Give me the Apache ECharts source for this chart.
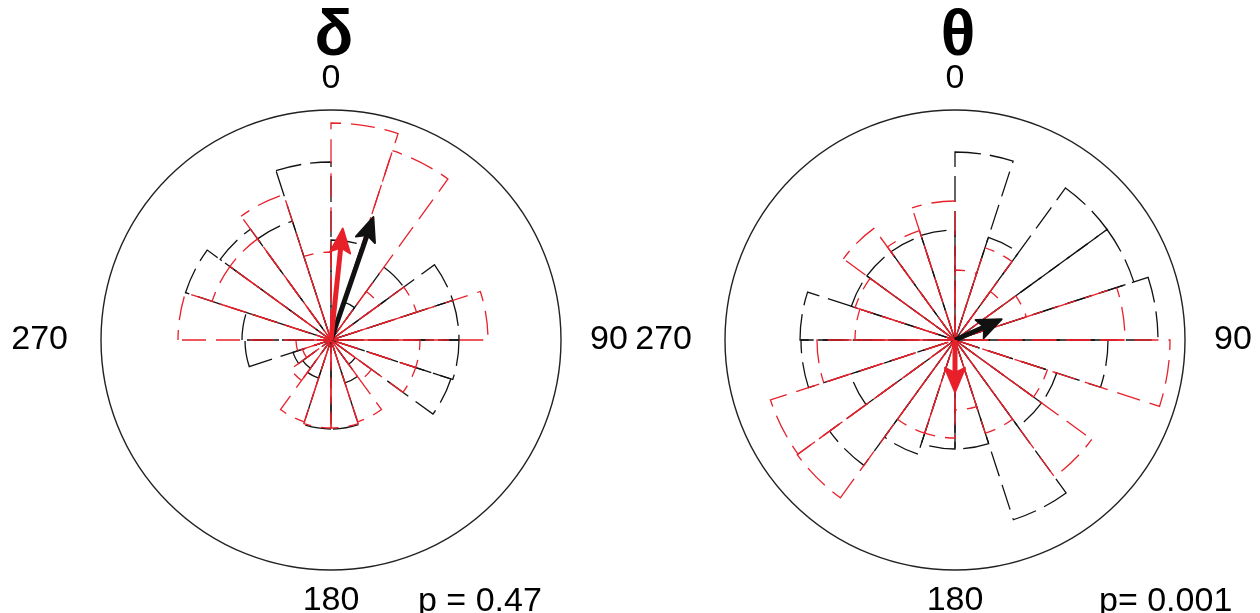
<!DOCTYPE html>
<html><head><meta charset="utf-8">
<script src="https://cdn.jsdelivr.net/npm/echarts@6/dist/echarts.min.js"></script>
<style>html,body{margin:0;padding:0;background:#fff}#c{width:1260px;height:613px}</style>
</head><body><div id="c"></div>
<script>
// 20 bins of 18 degrees (compass: 0 = up, clockwise)
const binLabels = ['0-18','18-36','36-54','54-72','72-90','90-108','108-126','126-144','144-162','162-180',
  '180-198','198-216','216-234','234-252','252-270','270-288','288-306','306-324','324-342','342-360'];
// bin radii (outer circle = 230)
const deltaBlack = [100,40,90,128,128,128,126,30,45,89,89,40,35,40,86,89,153,137,125,178];
const deltaRed   = [217,199,60,90,157,89,89,50,86,88,88,86,50,30,35,153,125,125,153,88];
const thetaBlack = [188,108,188,188,203,153,107,107,189,109,109,120,155,110,154,155,109,109,109,110];
const thetaRed   = [70,97,60,75,170,215,97,169,98,70,98,98,195,194,138,100,105,138,115,139];
// mean vectors: [angle (deg), length]
const deltaArrowBlack = [19,130];
const deltaArrowRed   = [6,112];
const thetaArrowBlack = [66,51];
const thetaArrowRed   = [180,52];
const angleTicks = [0,90,180,270];
const titles = ['δ','θ'];
const pTexts = ['p = 0.47','p= 0.001'];

const RMAX = 230;
const BLACK = '#111111', RED = '#e8202a';
const FONT = '"Liberation Sans",Arial,Helvetica,sans-serif';
const FS = 34;

const chart = echarts.init(document.getElementById('c'), null, {renderer:'canvas'});
const centers = [[331,340],[955,340]];
const pLeft = [413,1094];

const polar = [], angleAxis = [], radiusAxis = [], series = [];
centers.forEach((c, i) => {
  polar.push({center:c, radius:RMAX});
  angleAxis.push({polarIndex:2*i, type:'category', data:binLabels, startAngle:90, clockwise:true, boundaryGap:true, show:false});
  radiusAxis.push({polarIndex:2*i, type:'value', min:0, max:RMAX, show:false});
  polar.push({center:c, radius:RMAX});
  angleAxis.push({polarIndex:2*i+1, type:'value', min:0, max:360, interval:90, startAngle:90, clockwise:true,
    axisLine:{show:true, lineStyle:{color:'#222', width:1.4}}, axisTick:{show:false}, splitLine:{show:false},
    axisLabel:{show:true, margin:14, color:'#000', fontSize:FS, fontFamily:FONT,
      formatter: v => angleTicks.indexOf(v) < 0 ? '' : (v===90 ? '{r|'+v+'}' : v===270 ? '{l|'+v+'}' : '{n|'+v+'}'),
      rich:{ n:{fontSize:FS, fontFamily:FONT, color:'#000'},
             r:{fontSize:FS, fontFamily:FONT, color:'#000', padding:[0,0,0,15]},
             l:{fontSize:FS, fontFamily:FONT, color:'#000', padding:[0,19,0,0]} }
    }});
  radiusAxis.push({polarIndex:2*i+1, type:'value', min:0, max:RMAX, show:false});
});

function roseSeries(pi, data, color, dash, offset) {
  return {type:'bar', coordinateSystem:'polar', polarIndex:pi, data:data, barCategoryGap:'0%', barGap:'-100%',
    silent:true, animation:false,
    itemStyle:{color:'rgba(0,0,0,0)', borderColor:color, borderWidth:1.3, borderType:dash, borderDashOffset:offset}};
}
series.push(roseSeries(0, deltaBlack, BLACK, [26,9], 0));
series.push(roseSeries(0, deltaRed, RED, [24,10], 14));
series.push(roseSeries(2, thetaBlack, BLACK, [26,9], 0));
series.push(roseSeries(2, thetaRed, RED, [24,10], 14));

function arrowSeries(pi, arr, color) {
  return {type:'custom', coordinateSystem:'polar', polarIndex:pi, data:[arr], encode:{angle:0, radius:1},
    silent:true, animation:false, z:10,
    renderItem:(params, api) => {
      const ang = api.value(0), len = api.value(1);
      const c = api.coord([0, ang]);
      const t = api.coord([len, ang]);
      const dx = t[0]-c[0], dy = t[1]-c[1], L = Math.hypot(dx,dy);
      const ux = dx/L, uy = dy/L, head = 24, hw = 10;
      const b = [t[0]-ux*head, t[1]-uy*head];
      const n = [t[0]-ux*(head-5), t[1]-uy*(head-5)];
      return {type:'group', children:[
        {type:'line', shape:{x1:c[0], y1:c[1], x2:n[0], y2:n[1]}, style:{stroke:color, lineWidth:5}},
        {type:'polygon', shape:{points:[t,[b[0]-uy*hw,b[1]+ux*hw],n,[b[0]+uy*hw,b[1]-ux*hw]]}, style:{fill:color, stroke:color, lineWidth:2, lineJoin:'round'}}
      ]};
    }};
}
series.push(arrowSeries(1, deltaArrowBlack, BLACK));
series.push(arrowSeries(1, deltaArrowRed, RED));
series.push(arrowSeries(3, thetaArrowBlack, BLACK));
series.push(arrowSeries(3, thetaArrowRed, RED));

const title = [];
centers.forEach((c, i) => {
  title.push({text:titles[i], left:c[0]-2, top:0, textAlign:'center',
    textStyle:{fontSize:64, fontWeight:'bold', color:'#000', fontFamily:FONT}});
  title.push({text:pTexts[i], left:pLeft[i], top:580, textAlign:'left',
    textStyle:{fontSize:FS, fontWeight:'normal', color:'#000', fontFamily:FONT}});
});

chart.setOption({animation:false, backgroundColor:'#fff', title, polar, angleAxis, radiusAxis, series});
</script></body></html>
